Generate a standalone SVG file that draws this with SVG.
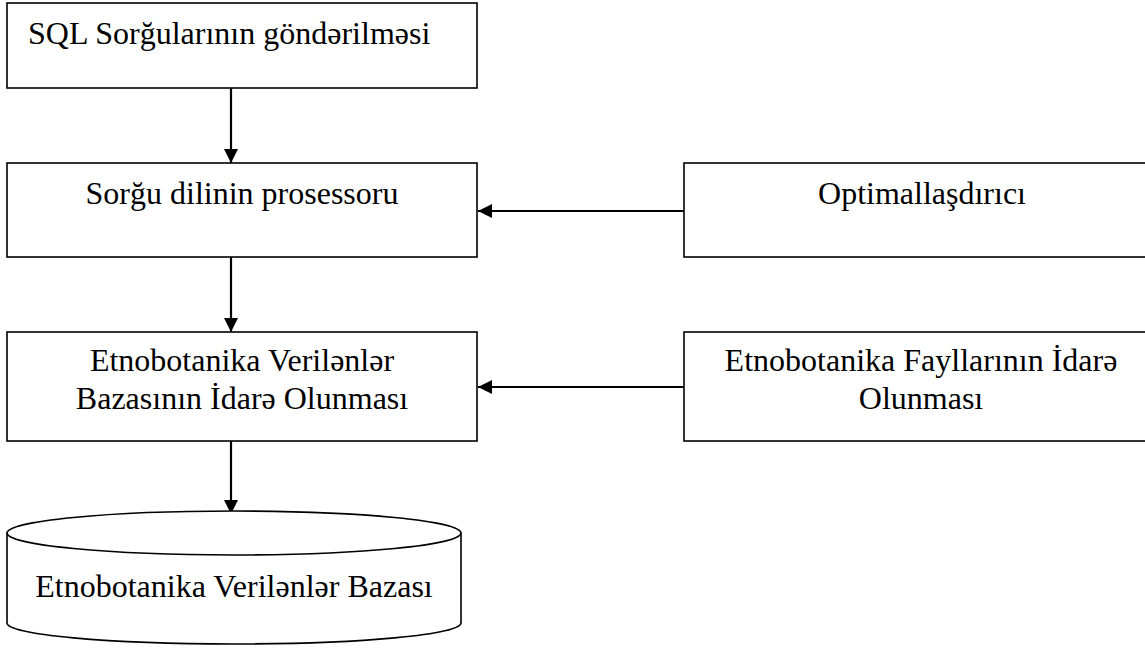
<svg xmlns="http://www.w3.org/2000/svg" width="1145" height="648" viewBox="0 0 1145 648">
<style>
.box{fill:#fff;stroke:#000;stroke-width:1.6}
.lbl{font-family:"Liberation Serif","Times New Roman",serif;font-size:32px;fill:#000}
.c{text-anchor:middle}
.conn{stroke:#000;stroke-width:2.2;fill:none}
</style>
<defs>
<marker id="ah" viewBox="0 0 14 14" refX="14" refY="7" markerWidth="14" markerHeight="14" markerUnits="userSpaceOnUse" orient="auto">
<path d="M0,0 L14,7 L0,14 Z" fill="#000"/>
</marker>
</defs>
<rect width="1145" height="648" fill="#fff"/>
<g id="connectors">
<line class="conn" x1="231" y1="88" x2="231" y2="163" marker-end="url(#ah)"/>
<line class="conn" x1="231" y1="257" x2="231" y2="332" marker-end="url(#ah)"/>
<line class="conn" x1="231" y1="441" x2="231" y2="514" marker-end="url(#ah)"/>
<line class="conn" x1="684" y1="211" x2="478" y2="211" marker-end="url(#ah)"/>
<line class="conn" x1="684" y1="387" x2="478" y2="387" marker-end="url(#ah)"/>
</g>
<g id="sql">
<rect class="box" x="7" y="3" width="470" height="85"/>
<text class="lbl" x="28" y="44">SQL Sorğularının göndərilməsi</text>
</g>
<g id="processor">
<rect class="box" x="7" y="163" width="470" height="94"/>
<text class="lbl c" x="242" y="204">Sorğu dilinin prosessoru</text>
</g>
<g id="optimizer">
<rect class="box" x="684" y="163" width="480" height="94"/>
<text class="lbl c" x="922" y="204">Optimallaşdırıcı</text>
</g>
<g id="dbms">
<rect class="box" x="7" y="332" width="470" height="109"/>
<text class="lbl c" x="242" y="371">Etnobotanika Verilənlər</text>
<text class="lbl c" x="242" y="409">Bazasının İdarə Olunması</text>
</g>
<g id="files">
<rect class="box" x="684" y="332" width="480" height="109"/>
<text class="lbl c" x="921" y="371">Etnobotanika Fayllarının İdarə</text>
<text class="lbl c" x="921" y="409">Olunması</text>
</g>
<g id="database">
<path class="box" d="M7,533 A227,22 0 0 1 461,533 L461,623 A227,21 0 0 1 7,623 Z"/>
<path class="box" style="fill:none" d="M7,533 A227,22 0 0 0 461,533"/>
<text class="lbl c" x="234" y="597">Etnobotanika Verilənlər Bazası</text>
</g>
</svg>
